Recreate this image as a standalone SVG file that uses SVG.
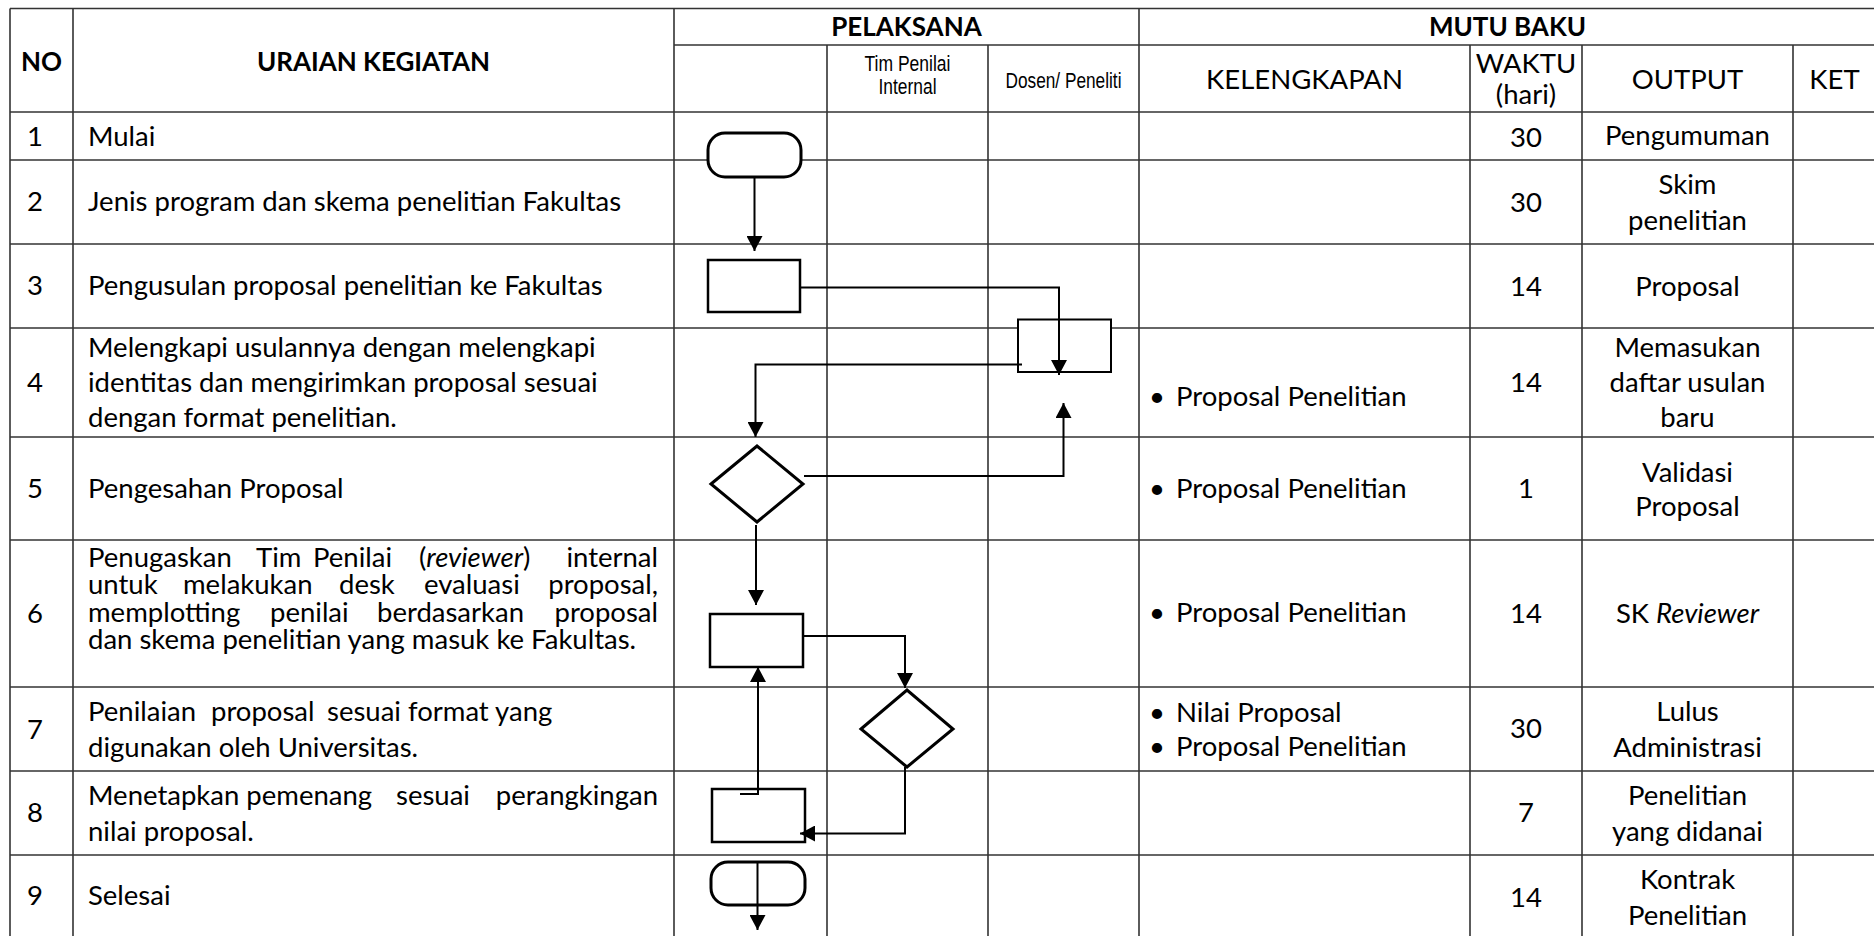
<svg xmlns="http://www.w3.org/2000/svg" width="1874" height="936" viewBox="0 0 1874 936">
<style>
.t{font-family:Lato,"Open Sans",sans-serif;font-size:27.5px;fill:#000}
.b{font-weight:bold;font-size:26px}
.c{text-anchor:middle}
.e{text-anchor:end}
.i{font-style:italic}
.nr{font-family:"Liberation Sans Narrow","Liberation Sans",sans-serif;font-size:22px;fill:#000;text-anchor:middle}
.grid line{stroke:#333;stroke-width:1.6}
.conn path{fill:none;stroke:#000;stroke-width:2}
.sh{fill:#fff;stroke:#000}
.thick{stroke-width:3}
.med{stroke-width:2.5}
</style>
<defs>
<marker id="ah" markerUnits="userSpaceOnUse" markerWidth="16" markerHeight="16" refX="15" refY="8" orient="auto" viewBox="0 0 16 16"><path d="M0,0 L15,8 L0,16 z" fill="#000"/></marker>
</defs>
<rect x="0" y="0" width="1874" height="936" fill="#fff"/>
<g id="grid" class="grid">
<line x1="10" y1="8.5" x2="1874" y2="8.5"/>
<line x1="674" y1="45" x2="1874" y2="45"/>
<line x1="10" y1="112" x2="1874" y2="112"/>
<line x1="10" y1="160" x2="1874" y2="160"/>
<line x1="10" y1="244" x2="1874" y2="244"/>
<line x1="10" y1="328" x2="1874" y2="328"/>
<line x1="10" y1="437" x2="1874" y2="437"/>
<line x1="10" y1="540" x2="1874" y2="540"/>
<line x1="10" y1="687" x2="1874" y2="687"/>
<line x1="10" y1="771" x2="1874" y2="771"/>
<line x1="10" y1="855" x2="1874" y2="855"/>
<line x1="10" y1="8.5" x2="10" y2="936"/>
<line x1="73" y1="8.5" x2="73" y2="936"/>
<line x1="674" y1="8.5" x2="674" y2="936"/>
<line x1="827" y1="45" x2="827" y2="936"/>
<line x1="988" y1="45" x2="988" y2="936"/>
<line x1="1139" y1="8.5" x2="1139" y2="936"/>
<line x1="1470" y1="45" x2="1470" y2="936"/>
<line x1="1582" y1="45" x2="1582" y2="936"/>
<line x1="1793" y1="45" x2="1793" y2="936"/>
</g>
<g id="header">
<text class="t b c" x="41.5" y="71">NO</text>
<text class="t b c" x="373.5" y="71">URAIAN KEGIATAN</text>
<text class="t b c" x="906.5" y="36">PELAKSANA</text>
<text class="t b c" x="1507.5" y="36">MUTU BAKU</text>
<text class="nr" x="907.5" y="71" textLength="86" lengthAdjust="spacingAndGlyphs">Tim Penilai</text>
<text class="nr" x="907.5" y="94" textLength="58" lengthAdjust="spacingAndGlyphs">Internal</text>
<text class="nr" x="1063.5" y="88" textLength="116" lengthAdjust="spacingAndGlyphs">Dosen/ Peneliti</text>
<text class="t c" x="1304.5" y="89">KELENGKAPAN</text>
<text class="t c" x="1526" y="73">WAKTU</text>
<text class="t c" x="1526" y="104">(hari)</text>
<text class="t c" x="1687.5" y="89">OUTPUT</text>
<text class="t c" x="1834.5" y="89">KET</text>
</g>
<g id="row1">
<text class="t" x="27" y="146">1</text>
<text class="t" x="88" y="146">Mulai</text>
<text class="t c" x="1526" y="146.5">30</text>
<text class="t c" x="1687.5" y="145">Pengumuman</text>
</g>
<g id="row2">
<text class="t" x="27" y="211">2</text>
<text class="t" x="88" y="211">Jenis program dan skema penelitian Fakultas</text>
<text class="t c" x="1526" y="211.5">30</text>
<text class="t c" x="1687.5" y="194">Skim</text>
<text class="t c" x="1687.5" y="229.5">penelitian</text>
</g>
<g id="row3">
<text class="t" x="27" y="295">3</text>
<text class="t" x="88" y="295">Pengusulan proposal penelitian ke Fakultas</text>
<text class="t c" x="1526" y="295.5">14</text>
<text class="t c" x="1687.5" y="296">Proposal</text>
</g>
<g id="row4">
<text class="t" x="27" y="392">4</text>
<text class="t" x="88" y="357">Melengkapi usulannya dengan melengkapi</text>
<text class="t" x="88" y="392">identitas dan mengirimkan proposal sesuai</text>
<text class="t" x="88" y="427">dengan format penelitian.</text>
<text class="t c" x="1157" y="406">•</text>
<text class="t" x="1176" y="406">Proposal Penelitian</text>
<text class="t c" x="1526" y="391.5">14</text>
<text class="t c" x="1687.5" y="357">Memasukan</text>
<text class="t c" x="1687.5" y="392">daftar usulan</text>
<text class="t c" x="1687.5" y="427">baru</text>
</g>
<g id="row5">
<text class="t" x="27" y="498">5</text>
<text class="t" x="88" y="498">Pengesahan Proposal</text>
<text class="t c" x="1157" y="498">•</text>
<text class="t" x="1176" y="498">Proposal Penelitian</text>
<text class="t c" x="1526" y="498">1</text>
<text class="t c" x="1687.5" y="482">Validasi</text>
<text class="t c" x="1687.5" y="516">Proposal</text>
</g>
<g id="row6">
<text class="t" x="27" y="623">6</text>
<text class="t" x="88" y="567">Penugaskan</text>
<text class="t" x="256" y="567">Tim</text>
<text class="t" x="313" y="567">Penilai</text>
<text class="t" x="419" y="567">(<tspan class="i">reviewer</tspan>)</text>
<text class="t e" x="658" y="567">internal</text>
<text class="t" x="88" y="594">untuk</text>
<text class="t" x="183" y="594">melakukan</text>
<text class="t" x="339" y="594">desk</text>
<text class="t" x="424" y="594">evaluasi</text>
<text class="t e" x="658" y="594">proposal,</text>
<text class="t" x="88" y="622">memplotting</text>
<text class="t" x="270" y="622">penilai</text>
<text class="t" x="377" y="622">berdasarkan</text>
<text class="t e" x="658" y="622">proposal</text>
<text class="t" x="88" y="649">dan skema penelitian yang masuk ke Fakultas.</text>
<text class="t c" x="1157" y="622">•</text>
<text class="t" x="1176" y="622">Proposal Penelitian</text>
<text class="t c" x="1526" y="622.5">14</text>
<text class="t c" x="1687.5" y="623">SK <tspan class="i">Reviewer</tspan></text>
</g>
<g id="row7">
<text class="t" x="27" y="739">7</text>
<text class="t" x="88" y="721">Penilaian</text>
<text class="t" x="211" y="721">proposal</text>
<text class="t" x="327" y="721">sesuai format yang</text>
<text class="t" x="88" y="757">digunakan oleh Universitas.</text>
<text class="t c" x="1157" y="722">•</text>
<text class="t" x="1176" y="722">Nilai Proposal</text>
<text class="t c" x="1157" y="756">•</text>
<text class="t" x="1176" y="756">Proposal Penelitian</text>
<text class="t c" x="1526" y="738">30</text>
<text class="t c" x="1687.5" y="721">Lulus</text>
<text class="t c" x="1687.5" y="757">Administrasi</text>
</g>
<g id="row8">
<text class="t" x="27" y="822">8</text>
<text class="t" x="88" y="805">Menetapkan pemenang</text>
<text class="t" x="396" y="805">sesuai</text>
<text class="t e" x="658" y="805">perangkingan</text>
<text class="t" x="88" y="841">nilai proposal.</text>
<text class="t c" x="1526" y="821.5">7</text>
<text class="t c" x="1687.5" y="805">Penelitian</text>
<text class="t c" x="1687.5" y="841">yang didanai</text>
</g>
<g id="row9">
<text class="t" x="27" y="905">9</text>
<text class="t" x="88" y="905">Selesai</text>
<text class="t c" x="1526" y="906.5">14</text>
<text class="t c" x="1687.5" y="889">Kontrak</text>
<text class="t c" x="1687.5" y="925">Penelitian</text>
</g>
<g id="n1-start"><rect class="sh thick" x="708" y="133" width="93" height="44" rx="17"/></g>
<g id="n3-usul"><rect class="sh med" x="708" y="260" width="92" height="52"/></g>
<g id="n4-dosen"><rect class="sh" stroke-width="2" x="1018" y="319.5" width="93" height="52.5"/></g>
<g id="n5-sah"><polygon class="sh thick" points="711,484 757,446 803,484 757,522"/></g>
<g id="n6-tugas"><rect class="sh med" x="710" y="614" width="93" height="53"/></g>
<g id="n7-nilai"><polygon class="sh thick" points="861,729 907,690 953,729 907,767"/></g>
<g id="n8-tetap"><rect class="sh med" x="712" y="789" width="93" height="53"/></g>
<g id="n9-end"><rect class="sh thick" x="711" y="862" width="94" height="43" rx="17"/></g>
<g id="connectors" class="conn">
<path d="M754.5,177 V251" marker-end="url(#ah)"/>
<path d="M800,287.5 H1059 V375" marker-end="url(#ah)"/>
<path d="M1022,364.5 H755.5 V437" marker-end="url(#ah)"/>
<path d="M804,476 H1063.5 V403" marker-end="url(#ah)"/>
<path d="M756,525 V605" marker-end="url(#ah)"/>
<path d="M803,636 H905 V688" marker-end="url(#ah)"/>
<path d="M905,767 V833.5 H800" marker-end="url(#ah)"/>
<path d="M740,794 H758 V667" marker-end="url(#ah)"/>
<path d="M757.5,863 V930" marker-end="url(#ah)"/>
</g>
</svg>
